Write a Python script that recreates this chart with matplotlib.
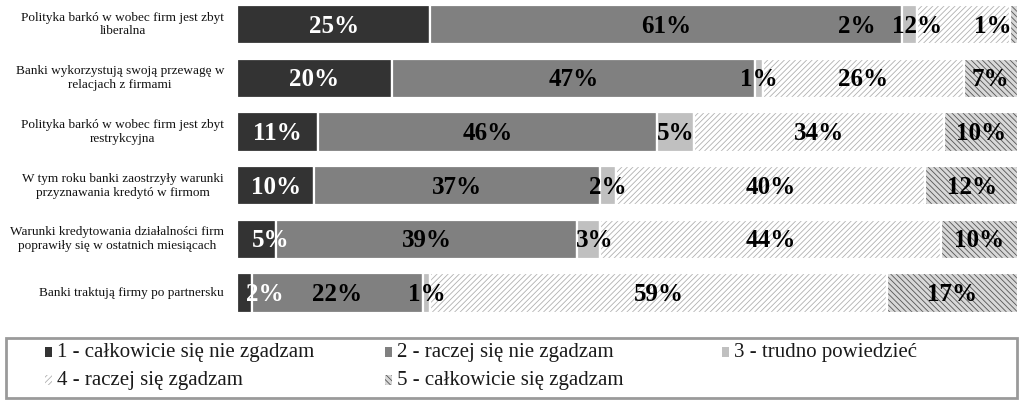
import matplotlib
matplotlib.use("Agg")
import matplotlib.pyplot as plt
from matplotlib.patches import Rectangle
import numpy as np

categories = [
    "Polityka barkó w wobec firm jest zbyt\nliberalna",
    "Banki wykorzystują swoją przewagę w\nrelacjach z firmami",
    "Polityka barkó w wobec firm jest zbyt\nrestrykcyjna",
    "W tym roku banki zaostrzyły warunki\nprzyznawania kredytó w firmom",
    "Warunki kredytowania działalności firm\npoprawiły się w ostatnich miesiącach",
    "Banki traktują firmy po partnersku",
]
series_names = [
    "1 - całkowicie się nie zgadzam",
    "2 - raczej się nie zgadzam",
    "3 - trudno powiedzieć",
    "4 - raczej się zgadzam",
    "5 - całkowicie się zgadzam",
]
s1 = [25, 20, 11, 10, 5, 2]
s2 = [61, 47, 46, 37, 39, 22]
s3 = [2, 1, 5, 2, 3, 1]
s4 = [12, 26, 34, 40, 44, 59]
s5 = [1, 7, 10, 12, 10, 17]

# styles
faces = ["#333333", "#808080", "#c0c0c0", "#ffffff", "#d8d8d8"]
hatches = [None, None, None, "//////", "\\\\\\\\\\\\"]
hatch_cols = [None, None, None, "#b0b0b0", "#555555"]
text_cols = ["white", "black", "black", "black", "black"]
# manual label nudges (row, series) -> px offset
nudges = {(0, 2): -53, (0, 3): -47, (0, 4): -21, (4, 0): 14, (5, 0): 20, (4, 2): 6}

plt.rcParams["hatch.linewidth"] = 0.6
serif = ["Liberation Serif", "DejaVu Serif"]

W, H = 1023, 400
fig = plt.figure(figsize=(W / 100, H / 100), dpi=100)
ax_l, ax_r = 237, 1018
ax = fig.add_axes([ax_l / W, 1 - 320 / H, (ax_r - ax_l) / W, 320 / H])
px_per = (ax_r - ax_l) / 100.0

data = np.array([s1, s2, s3, s4, s5], dtype=float)
norm = data / data.sum(axis=0) * 100
y = np.arange(len(categories))
left = np.zeros(len(categories))
bh = 0.73
for k in range(5):
    w = norm[k]
    if hatches[k]:
        ax.barh(y, w, left=left, height=bh, color=faces[k], hatch=hatches[k],
                edgecolor=hatch_cols[k], linewidth=0)
    else:
        ax.barh(y, w, left=left, height=bh, color=faces[k], linewidth=0)
    ax.barh(y, w, left=left, height=bh, fill=False, edgecolor="white", linewidth=1.6)
    for i in range(len(categories)):
        cx = left[i] + w[i] / 2 + nudges.get((i, k), 0) / px_per
        ax.text(cx, y[i] + 0.03, f"{int(data[k, i])}%", ha="center", va="center",
                color=text_cols[k], fontsize=18, fontweight="bold", family=serif)
    left += w

ax.set_xlim(0, 100)
ax.set_ylim((320 - 24.5) / 53.7, -24.5 / 53.7)
ax.axis("off")

for i, c in enumerate(categories):
    ax.text(-13 / px_per, y[i], c, ha="right", va="center", multialignment="center",
            fontsize=9.5, family=serif, linespacing=1.2, color="#111111")

# legend (manual layout)
fig.add_artist(Rectangle((6 / W, 2 / H), 1011 / W, 60 / H, transform=fig.transFigure,
                         facecolor="white", edgecolor="#9a9a9a", linewidth=2))
col_x = [45, 385, 722]
row_y = [352, 380]
for k, name in enumerate(series_names):
    r, c = divmod(k, 3)
    mx, my = col_x[c], row_y[r]
    fig.add_artist(Rectangle((mx / W, (H - my - 5) / H), 7 / W, 10 / H,
                             transform=fig.transFigure, facecolor=faces[k],
                             hatch=hatches[k], edgecolor=hatch_cols[k] if hatches[k] else faces[k],
                             linewidth=0))
    fig.text((mx + 12) / W, (H - my) / H, name, ha="left", va="center",
             fontsize=15, family=serif, color="#1a1a1a")

fig.savefig("out.png", dpi=100)
